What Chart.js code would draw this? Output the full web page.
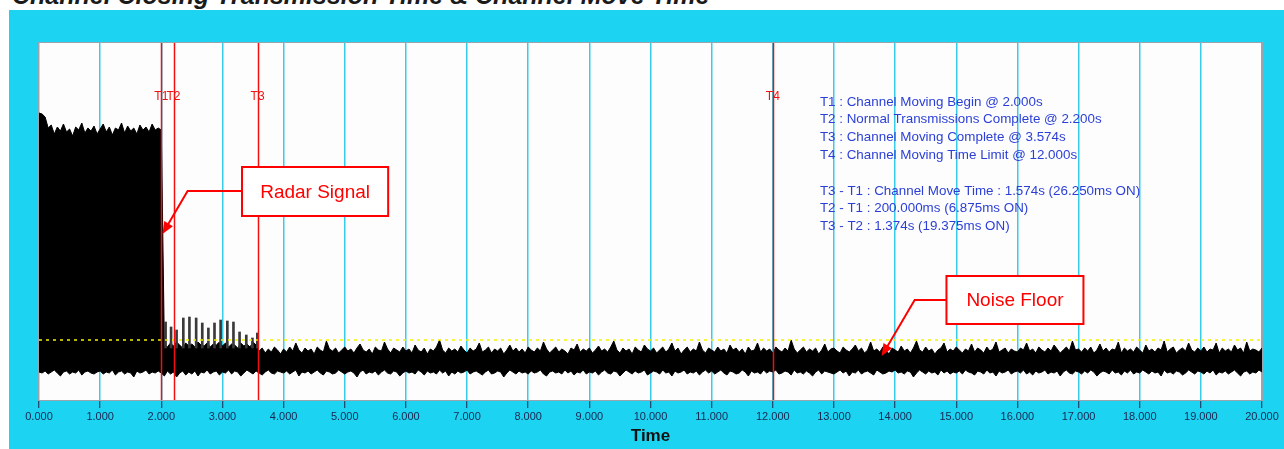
<!DOCTYPE html>
<html>
<head>
<meta charset="utf-8">
<script src="https://cdn.jsdelivr.net/npm/chart.js@4.4.0/dist/chart.umd.min.js"></script>
<style>
  html, body { margin: 0; padding: 0; background: #fff; width: 1284px; height: 449px; overflow: hidden; }
  #title { position: absolute; left: 12px; top: -17px; font: italic bold 25px 'Liberation Sans', Arial, sans-serif; line-height: 25px; color: #1a1a1a; white-space: nowrap; }
  #frame { position: absolute; left: 9px; top: 10px; width: 1275px; height: 439px; background: #1cd4f2; }
  canvas { display: block; }
</style>
</head>
<body>
<div id="title">Channel Closing Transmission Time &amp; Channel Move Time</div>
<div id="frame"><canvas id="chart" width="1275" height="439"></canvas></div>
<script>
// trace captured every 0.05 s, levels in screen units (0 = plot bottom)
const sampleStep = 0.05;

// upper edge of the trace envelope, one row per second
const traceTop = [
  287, 286, 283, 272, 275, 266, 273, 269, 276, 268,  271, 264, 273, 270, 277, 267, 272, 269, 274, 266,
  271, 276, 268, 273, 265, 272, 270, 277, 267, 274,  269, 272, 266, 275, 270, 273, 268, 276, 270, 272,
  270, 56, 53, 57, 54, 58, 55, 52, 57, 54,  56, 53, 58, 55, 54, 57, 53, 56, 55, 58,
  54, 57, 53, 56, 55, 52, 57, 54, 56, 53,  58, 55, 49, 52, 47, 51, 48, 53, 50, 46,
  51, 48, 53, 49, 57, 50, 47, 52, 49, 51,  46, 53, 50, 48, 59, 51, 49, 52, 47, 50,
  53, 49, 51, 47, 52, 56, 50, 48, 51, 46,  53, 50, 49, 58, 51, 47, 52, 50, 48, 53,
  49, 51, 47, 55, 50, 48, 52, 46, 51, 49,  53, 60, 50, 47, 52, 49, 51, 48, 54, 50,
  47, 52, 49, 51, 57, 48, 50, 53, 47, 51,  49, 52, 46, 50, 55, 49, 52, 48, 51, 47,
  53, 50, 48, 52, 49, 58, 51, 47, 50, 53,  48, 51, 49, 46, 52, 50, 56, 48, 51, 49,
  52, 47, 50, 54, 49, 51, 48, 53, 59, 50,  47, 52, 49, 51, 46, 53, 50, 48, 55, 51,
  49, 52, 47, 50, 53, 48, 51, 57, 49, 52,  46, 50, 53, 48, 51, 49, 58, 50, 47, 52,
  50, 48, 53, 49, 51, 47, 55, 50, 52, 48,  51, 46, 53, 49, 50, 57, 48, 52, 49, 51,
  47, 53, 50, 48, 52, 49, 60, 51, 47, 50,  53, 48, 51, 49, 52, 46, 50, 56, 48, 51,
  52, 49, 47, 53, 50, 48, 51, 55, 49, 52,  47, 50, 58, 49, 51, 48, 53, 50, 46, 52,
  50, 48, 54, 49, 51, 47, 52, 59, 50, 48,  53, 49, 51, 46, 50, 52, 57, 48, 51, 49,
  53, 50, 47, 51, 49, 56, 48, 52, 50, 47,  53, 49, 51, 58, 48, 50, 52, 47, 51, 49,
  48, 52, 50, 57, 49, 51, 47, 53, 50, 48,  52, 49, 55, 51, 47, 50, 53, 49, 59, 50,
  51, 48, 52, 49, 53, 47, 50, 56, 49, 52,  48, 51, 50, 58, 47, 52, 49, 51, 48, 53,
  50, 47, 55, 49, 51, 48, 52, 50, 59, 48,  51, 53, 47, 50, 52, 49, 57, 50, 48, 52,
  49, 53, 48, 51, 50, 57, 47, 52, 49, 51,  48, 55, 50, 52, 47, 58, 49, 51, 50, 48,
  52
];

// lower edge of the trace envelope, one row per second
const traceBottom = [
  28, 27, 29, 26, 28, 30, 27, 24, 28, 29,  26, 28, 27, 30, 25, 28, 29, 27, 26, 28,
  29, 26, 28, 27, 30, 25, 28, 29, 26, 28,  27, 23, 29, 27, 28, 30, 26, 28, 27, 29,
  27, 24, 29, 26, 28, 23, 27, 29, 25, 28,  26, 29, 24, 28, 27, 30, 26, 28, 29, 25,
  28, 27, 30, 26, 29, 28, 24, 27, 30, 28,  26, 29, 27, 25, 28, 30, 27, 26, 29, 28,
  27, 29, 26, 28, 30, 24, 28, 27, 29, 26,  28, 30, 27, 25, 29, 28, 26, 27, 30, 28,
  26, 28, 29, 27, 23, 28, 30, 26, 28, 27,  29, 25, 28, 30, 27, 26, 29, 28, 24, 27,
  29, 27, 28, 26, 30, 28, 25, 29, 27, 28,  26, 30, 27, 29, 24, 28, 26, 29, 27, 28,
  30, 26, 28, 29, 27, 25, 28, 30, 26, 27,  29, 28, 23, 27, 30, 28, 26, 29, 27, 28,
  26, 29, 27, 28, 30, 26, 24, 28, 29, 27,  28, 26, 30, 27, 29, 25, 28, 27, 30, 26,
  28, 27, 29, 25, 28, 30, 27, 26, 29, 28,  24, 27, 30, 28, 26, 29, 27, 28, 30, 25,
  27, 29, 28, 26, 30, 27, 28, 24, 29, 27,  28, 30, 26, 28, 27, 29, 25, 28, 30, 27,
  29, 26, 28, 30, 27, 25, 29, 28, 26, 27,  30, 28, 24, 29, 27, 28, 26, 30, 27, 29,
  28, 30, 26, 27, 29, 28, 25, 30, 27, 28,  26, 29, 27, 24, 28, 30, 26, 29, 28, 27,
  26, 28, 30, 27, 29, 24, 28, 27, 30, 26,  28, 29, 27, 25, 30, 28, 26, 27, 29, 28,
  30, 27, 28, 26, 29, 28, 23, 27, 30, 28,  26, 29, 27, 28, 25, 30, 27, 29, 26, 28,
  27, 29, 26, 30, 28, 27, 25, 29, 28, 26,  30, 27, 28, 24, 29, 27, 28, 30, 26, 28,
  29, 27, 30, 26, 28, 25, 29, 27, 28, 30,  26, 28, 27, 29, 24, 28, 30, 27, 26, 29,
  28, 26, 29, 27, 30, 28, 24, 27, 29, 28,  26, 30, 27, 28, 25, 29, 27, 30, 26, 28,
  27, 30, 28, 26, 29, 27, 28, 24, 30, 27,  28, 26, 29, 28, 25, 27, 30, 28, 26, 29,
  28, 26, 29, 27, 30, 25, 28, 27, 29, 26,  28, 30, 27, 24, 28, 29, 26, 28, 27, 30,
  28
];

// short transmission bursts between T1 and T3
const burstTimes = [2.07, 2.16, 2.25, 2.36, 2.46, 2.57, 2.67, 2.77, 2.87, 2.97, 3.08, 3.18, 3.28, 3.39, 3.49, 3.57];
const burstTops = [78, 73, 70, 82, 83, 82, 77, 72, 77, 80, 79, 78, 68, 65, 62, 67];
const burstBase = 52;

const markerNames = ['T1', 'T2', 'T3', 'T4'];
const markerTimes = [2.0, 2.2, 3.574, 12.0];

const thresholdLevel = 60;

const infoLines = [
  'T1 : Channel Moving Begin @ 2.000s',
  'T2 : Normal Transmissions Complete @ 2.200s',
  'T3 : Channel Moving Complete @ 3.574s',
  'T4 : Channel Moving Time Limit @ 12.000s',
  '',
  'T3 - T1 : Channel Move Time : 1.574s (26.250ms ON)',
  'T2 - T1 : 200.000ms (6.875ms ON)',
  'T3 - T2 : 1.374s (19.375ms ON)'
];

// callout boxes, placed in data units (time, level)
const callouts = [
  { text: 'Radar Signal', box: [3.32, 233, 5.71, 184], arrow: [[3.32, 209], [2.43, 209], [2.02, 166]] },
  { text: 'Noise Floor', box: [14.84, 124, 17.08, 76], arrow: [[14.84, 100], [14.32, 100], [13.78, 44]] }
];

const FONT = "'Liberation Sans', Arial, sans-serif";

const toPoints = arr => arr.map((v, i) => ({ x: Math.round(i * sampleStep * 100) / 100, y: v }));

function drawArrow(ctx, pts) {
  const n = pts.length;
  const tip = pts[n - 1], prev = pts[n - 2];
  const ang = Math.atan2(tip.y - prev.y, tip.x - prev.x);
  const len = 12, half = 5;
  ctx.strokeStyle = '#ff0000';
  ctx.lineWidth = 2;
  ctx.beginPath();
  ctx.moveTo(pts[0].x, pts[0].y);
  for (let i = 1; i < n - 1; i++) ctx.lineTo(pts[i].x, pts[i].y);
  ctx.lineTo(tip.x - Math.cos(ang) * (len - 2), tip.y - Math.sin(ang) * (len - 2));
  ctx.stroke();
  ctx.fillStyle = '#ff0000';
  ctx.beginPath();
  ctx.moveTo(tip.x, tip.y);
  ctx.lineTo(tip.x - Math.cos(ang) * len - Math.sin(ang) * half, tip.y - Math.sin(ang) * len + Math.cos(ang) * half);
  ctx.lineTo(tip.x - Math.cos(ang) * len + Math.sin(ang) * half, tip.y - Math.sin(ang) * len - Math.cos(ang) * half);
  ctx.closePath();
  ctx.fill();
}

const scopeDecor = {
  id: 'scopeDecor',
  beforeDraw(chart) {
    const { ctx, chartArea: a } = chart;
    ctx.save();
    ctx.fillStyle = '#fdfdfd';
    ctx.fillRect(a.left, a.top, a.right - a.left, a.bottom - a.top);
    ctx.restore();
  },
  afterDatasetsDraw(chart) {
    const { ctx, chartArea: a, scales: { x, y } } = chart;
    ctx.save();

    // marker lines
    ctx.strokeStyle = '#f01010';
    ctx.lineWidth = 1.5;
    markerTimes.forEach(t => {
      const px = Math.round(x.getPixelForValue(t)) + 0.5;
      ctx.beginPath();
      ctx.moveTo(px, a.top);
      ctx.lineTo(px, a.bottom);
      ctx.stroke();
    });
    ctx.fillStyle = '#f01010';
    ctx.font = '12px ' + FONT;
    ctx.textAlign = 'center';
    ctx.textBaseline = 'middle';
    markerNames.forEach((name, i) => {
      ctx.fillText(name, x.getPixelForValue(markerTimes[i]), y.getPixelForValue(303));
    });

    // info text
    ctx.fillStyle = '#2b3fd6';
    ctx.font = '13.4px ' + FONT;
    ctx.textAlign = 'left';
    const ix = x.getPixelForValue(12.77);
    const iy = y.getPixelForValue(298);
    infoLines.forEach((line, i) => ctx.fillText(line, ix, iy + i * 17.8));

    // callouts
    callouts.forEach(c => {
      const x0 = x.getPixelForValue(c.box[0]), y0 = y.getPixelForValue(c.box[1]);
      const x1 = x.getPixelForValue(c.box[2]), y1 = y.getPixelForValue(c.box[3]);
      ctx.fillStyle = '#ffffff';
      ctx.fillRect(x0, y0, x1 - x0, y1 - y0);
      ctx.strokeStyle = '#ff0000';
      ctx.lineWidth = 2;
      ctx.strokeRect(x0, y0, x1 - x0, y1 - y0);
      ctx.fillStyle = '#ff0000';
      ctx.font = '19px ' + FONT;
      ctx.textAlign = 'center';
      ctx.fillText(c.text, (x0 + x1) / 2, (y0 + y1) / 2 + 1);
      drawArrow(ctx, c.arrow.map(p => ({ x: x.getPixelForValue(p[0]), y: y.getPixelForValue(p[1]) })));
    });

    // plot border
    ctx.strokeStyle = '#9aa4ae';
    ctx.lineWidth = 1;
    ctx.strokeRect(a.left - 0.5, a.top - 0.5, a.right - a.left + 1, a.bottom - a.top + 1);
    ctx.restore();
  }
};

new Chart(document.getElementById('chart').getContext('2d'), {
  type: 'line',
  data: {
    datasets: [
      {
        label: 'threshold',
        data: [{ x: 0, y: thresholdLevel }, { x: 20, y: thresholdLevel }],
        borderColor: '#f2f200',
        borderWidth: 1.5,
        borderDash: [3, 4],
        pointRadius: 0
      },
      {
        type: 'bar',
        label: 'bursts',
        data: burstTimes.map((t, i) => ({ x: t, y: [burstBase, burstTops[i]] })),
        backgroundColor: '#3a3a3a',
        barThickness: 2,
        grouped: false
      },
      {
        label: 'top',
        data: toPoints(traceTop),
        borderColor: '#000',
        backgroundColor: '#000',
        borderWidth: 1,
        pointRadius: 0,
        tension: 0,
        fill: '+1'
      },
      {
        label: 'bottom',
        data: toPoints(traceBottom),
        borderColor: '#000',
        borderWidth: 1,
        pointRadius: 0,
        tension: 0,
        fill: false
      }
    ]
  },
  options: {
    responsive: false,
    animation: false,
    devicePixelRatio: 1,
    layout: { padding: { left: 30, top: 33, right: 22, bottom: 0 } },
    plugins: {
      legend: { display: false },
      tooltip: { enabled: false }
    },
    scales: {
      x: {
        type: 'linear',
        min: 0,
        max: 20,
        offset: false,
        border: { display: false },
        grid: { offset: false, color: '#37cdea', lineWidth: 1.5, tickColor: '#1a2550', tickLength: 8, tickWidth: 1 },
        ticks: {
          stepSize: 1,
          autoSkip: false,
          maxRotation: 0,
          padding: 2,
          color: '#1a2550',
          font: { family: FONT, size: 11 },
          callback: v => Number(v).toFixed(3)
        },
        title: {
          display: true,
          text: 'Time',
          color: '#111',
          font: { family: FONT, size: 17, weight: 'bold' },
          padding: { top: 0, bottom: 2 }
        },
        afterFit(scale) { scale.height = 49; }
      },
      y: {
        type: 'linear',
        display: false,
        min: 0,
        max: 357
      }
    }
  },
  plugins: [scopeDecor]
});
</script>
</body>
</html>
